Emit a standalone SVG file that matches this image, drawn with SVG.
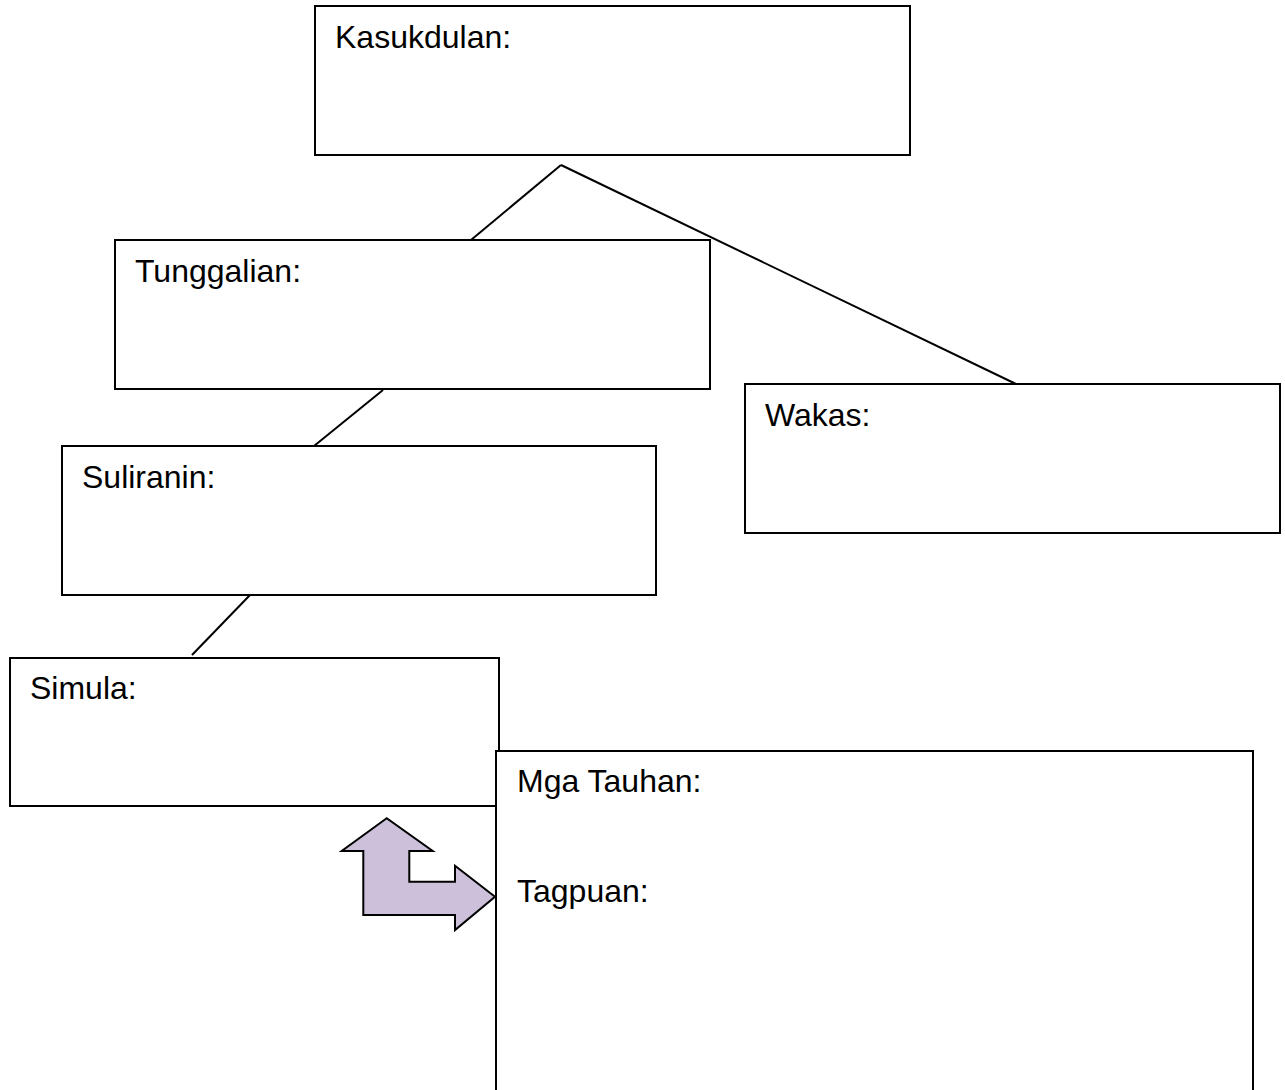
<svg xmlns="http://www.w3.org/2000/svg" width="1285" height="1090" viewBox="0 0 1285 1090">
<style>
.box{fill:#fff;stroke:#000;stroke-width:2}
.lbl{font-family:"Liberation Sans",Arial,sans-serif;font-size:32px;fill:#000}
.conn line{stroke:#000;stroke-width:2}
</style>
<rect width="1285" height="1090" fill="#fff"/>
<g class="conn" id="connectors">
<line x1="561" y1="165" x2="471" y2="240"/>
<line x1="561" y1="165" x2="1016" y2="384"/>
<line x1="383" y1="390" x2="314" y2="446"/>
<line x1="250" y1="595" x2="192" y2="655"/>
</g>
<g id="kasukdulan"><rect class="box" x="315" y="6" width="595" height="149"/><text class="lbl" x="335" y="48">Kasukdulan:</text></g>
<g id="tunggalian"><rect class="box" x="115" y="240" width="595" height="149"/><text class="lbl" x="135" y="282">Tunggalian:</text></g>
<g id="wakas"><rect class="box" x="745" y="384" width="535" height="149"/><text class="lbl" x="765" y="426">Wakas:</text></g>
<g id="suliranin"><rect class="box" x="62" y="446" width="594" height="149"/><text class="lbl" x="82" y="488">Suliranin:</text></g>
<g id="simula"><rect class="box" x="10" y="658" width="489" height="148"/><text class="lbl" x="30" y="699">Simula:</text></g>
<g id="tauhan"><rect class="box" x="496" y="751" width="757" height="360"/><text class="lbl" x="517" y="792">Mga Tauhan:</text><text class="lbl" x="517" y="902">Tagpuan:</text></g>
<g id="arrow"><polygon points="386.7,818.3 341.7,851 363.3,851 363.3,915 455,915 455,930 495,896.7 455,865.7 455,881.7 409.3,881.7 409.3,851 432.7,851" fill="#ccc0da" stroke="#000" stroke-width="2" stroke-linejoin="miter"/></g>
</svg>
